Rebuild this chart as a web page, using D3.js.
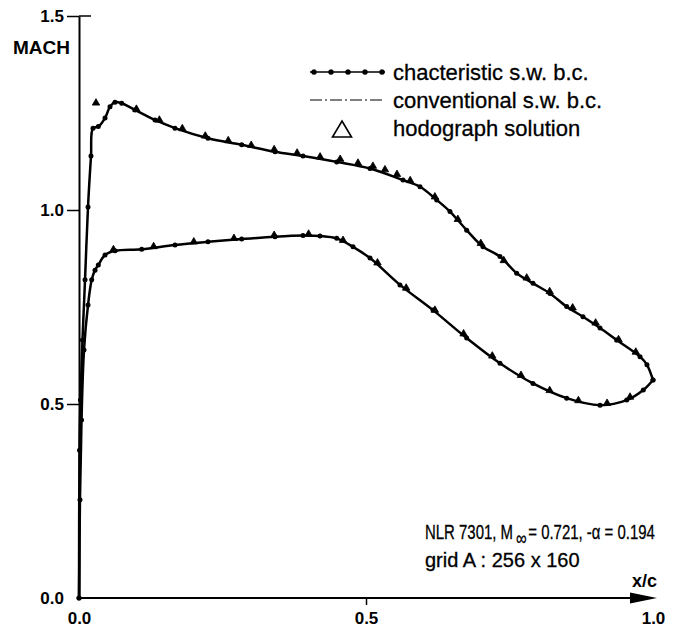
<!DOCTYPE html>
<html>
<head>
<meta charset="utf-8">
<script src="https://cdn.jsdelivr.net/npm/d3@7"></script>
<style>
  body { margin: 0; background: #fff; }
  svg { font-family: "Liberation Sans", Arial, Helvetica, sans-serif; }
</style>
</head>
<body>
<script>
var w = 675;
var h = 634;

// characteristic s.w. b.c. - upper surface [x/c, MACH]
var charUpper = [
  [0, 0], [0.0009, 0.381], [0.0026, 0.510], [0.0061, 0.665], [0.0105, 0.820],
  [0.0157, 1.008], [0.0209, 1.139], [0.0244, 1.211], [0.0336, 1.215], [0.0453, 1.237],
  [0.0540, 1.266], [0.0627, 1.278], [0.0744, 1.275], [0.0976, 1.258], [0.1324, 1.232],
  [0.1672, 1.211], [0.2247, 1.185], [0.2834, 1.168], [0.3415, 1.150], [0.3902, 1.139],
  [0.4490, 1.124], [0.5070, 1.107], [0.5645, 1.077], [0.5941, 1.060], [0.6232, 1.026],
  [0.6463, 0.996], [0.6754, 0.948], [0.7038, 0.905], [0.7334, 0.880], [0.7625, 0.837],
  [0.7909, 0.811], [0.8206, 0.785], [0.8496, 0.751], [0.8780, 0.725], [0.9077, 0.696],
  [0.9368, 0.665], [0.9774, 0.622], [0.9895, 0.601], [1.0, 0.562]
];

// characteristic s.w. b.c. - lower surface [x/c, MACH]
var charLower = [
  [0, 0], [0.0017, 0.253], [0.0044, 0.459], [0.0087, 0.639], [0.0157, 0.755],
  [0.0221, 0.820], [0.0279, 0.845], [0.0336, 0.858], [0.0453, 0.884], [0.0627, 0.895],
  [0.1092, 0.899], [0.1672, 0.910], [0.2247, 0.918], [0.2834, 0.925], [0.3415, 0.931],
  [0.3902, 0.934], [0.4199, 0.933], [0.4490, 0.927], [0.4774, 0.905], [0.5070, 0.876],
  [0.5592, 0.807], [0.6167, 0.742], [0.6754, 0.670], [0.7334, 0.605], [0.7909, 0.553],
  [0.8496, 0.515], [0.9077, 0.497], [0.9542, 0.510], [0.9831, 0.536], [1.0, 0.562]
];

// conventional s.w. b.c. coincides with the characteristic curves in the plot
var convUpper = charUpper;
var convLower = charLower;

// hodograph solution [x/c, MACH]
var hodoUpper = [
  [0.0296, 1.272], [0.10, 1.256], [0.14, 1.228], [0.18, 1.206], [0.22, 1.187],
  [0.26, 1.175], [0.30, 1.163], [0.34, 1.152], [0.38, 1.143], [0.42, 1.133],
  [0.455, 1.127], [0.486, 1.117], [0.512, 1.109], [0.533, 1.100], [0.554, 1.088],
  [0.577, 1.072], [0.62, 1.030], [0.66, 0.972], [0.70, 0.910], [0.74, 0.866],
  [0.78, 0.821], [0.82, 0.786], [0.86, 0.744], [0.90, 0.705], [0.94, 0.662], [0.97, 0.630]
];
var hodoLower = [
  [0.06, 0.894], [0.13, 0.902], [0.20, 0.914], [0.27, 0.923], [0.34, 0.931],
  [0.40, 0.934], [0.46, 0.918], [0.52, 0.860], [0.57, 0.795], [0.62, 0.738],
  [0.67, 0.677], [0.72, 0.620], [0.77, 0.570], [0.82, 0.531], [0.87, 0.505],
  [0.92, 0.498], [0.96, 0.514]
];

var xTicks = [0, 0.5, 1.0];
var yTicks = [0, 0.5, 1.0, 1.5];
var legendLabels = ["chacteristic s.w. b.c.", "conventional s.w. b.c.", "hodograph solution"];

var x = d3.scaleLinear().domain([0, 1]).range([79, 653]);
var y = d3.scaleLinear().domain([0, 1.5]).range([598, 16]);

var svg = d3.select("body").append("svg")
  .attr("width", w)
  .attr("height", h);

var line = d3.line()
  .x(function(d) { return x(d[0]); })
  .y(function(d) { return y(d[1]); })
  .curve(d3.curveCatmullRom.alpha(0.5));

// y axis
var yAxis = svg.append("g")
  .attr("transform", "translate(" + x(0) + ",0)")
  .call(d3.axisLeft(y).tickValues(yTicks).tickFormat(d3.format(".1f")).tickSizeInner(12).tickSizeOuter(0).tickPadding(3));
yAxis.select(".domain").attr("stroke-width", 2);
yAxis.selectAll(".tick line").attr("stroke-width", 1.5)
  .filter(function(d) { return d === 0; }).remove();
yAxis.selectAll(".tick text")
  .attr("font-size", 17)
  .attr("font-weight", "bold")
  .attr("font-family", "Liberation Sans, Arial, sans-serif")
  .attr("fill", "#000");

svg.append("line")
  .attr("x1", x(0)).attr("x2", x(0) + 12)
  .attr("y1", y(1.5)).attr("y2", y(1.5))
  .attr("stroke", "#000").attr("stroke-width", 1.5);

svg.append("text")
  .attr("x", 13)
  .attr("y", 54)
  .attr("font-size", 19)
  .attr("font-weight", "bold")
  .text("MACH");

// x axis
var xAxis = svg.append("g")
  .attr("transform", "translate(0," + y(0) + ")")
  .call(d3.axisBottom(x).tickValues(xTicks).tickFormat(d3.format(".1f")).tickSizeInner(7).tickSizeOuter(0).tickPadding(7));
xAxis.select(".domain").remove();
xAxis.selectAll(".tick line").attr("stroke-width", 1.5)
  .filter(function(d) { return d !== 0.5; }).remove();
xAxis.selectAll(".tick text")
  .attr("font-size", 17)
  .attr("font-weight", "bold")
  .attr("font-family", "Liberation Sans, Arial, sans-serif")
  .attr("fill", "#000");

svg.append("line")
  .attr("x1", x(0)).attr("x2", x(1) - 2)
  .attr("y1", y(0)).attr("y2", y(0))
  .attr("stroke", "#000").attr("stroke-width", 2);

svg.append("path")
  .attr("d", "M" + (x(1) - 23) + "," + (y(0) - 5.5) + "L" + (x(1) + 4) + "," + y(0) + "L" + (x(1) - 23) + "," + (y(0) + 5.5) + "Z")
  .attr("fill", "#000");

svg.append("text")
  .attr("x", x(1) + 4)
  .attr("y", 587)
  .attr("text-anchor", "end")
  .attr("font-size", 18)
  .attr("font-weight", "bold")
  .text("x/c");

// curves
var curves = svg.append("g");

[charUpper, charLower].forEach(function(s) {
  curves.append("path")
    .datum(s)
    .attr("d", line)
    .attr("fill", "none")
    .attr("stroke", "#000")
    .attr("stroke-width", 2.5);
  curves.selectAll(null)
    .data(s)
    .enter().append("circle")
      .attr("cx", function(d) { return x(d[0]); })
      .attr("cy", function(d) { return y(d[1]); })
      .attr("r", 2.5)
      .attr("fill", "#000");
});

[convUpper, convLower].forEach(function(s) {
  curves.append("path")
    .datum(s)
    .attr("d", line)
    .attr("fill", "none")
    .attr("stroke", "#000")
    .attr("stroke-width", 1)
    .attr("stroke-dasharray", "7,2,1.5,2");
});

var tri = d3.symbol().type(d3.symbolTriangle).size(24);
curves.selectAll(".hodo")
  .data(hodoUpper.concat(hodoLower))
  .enter().append("path")
    .attr("class", "hodo")
    .attr("d", tri)
    .attr("transform", function(d) { return "translate(" + x(d[0]) + "," + (y(d[1]) - 1.5) + ")"; })
    .attr("fill", "#000")
    .attr("stroke", "#000")
    .attr("stroke-width", 0.8);

// legend
var legend = svg.append("g")
  .attr("font-size", 22)
  .attr("stroke", "#000")
  .attr("stroke-width", 0.3);

legend.append("line")
  .attr("x1", 310).attr("x2", 385).attr("y1", 72).attr("y2", 72)
  .attr("stroke", "#000").attr("stroke-width", 1.5);
legend.selectAll(".ldot")
  .data([314, 331, 348, 365, 382])
  .enter().append("circle")
    .attr("class", "ldot")
    .attr("cx", function(d) { return d; })
    .attr("cy", 72)
    .attr("r", 2.6)
    .attr("fill", "#000");

legend.append("line")
  .attr("x1", 310).attr("x2", 385).attr("y1", 100).attr("y2", 100)
  .attr("stroke", "#000").attr("stroke-width", 1.2)
  .attr("stroke-dasharray", "12,3,2,3");

legend.append("path")
  .attr("d", "M342,121L351.5,137L332.5,137Z")
  .attr("fill", "none")
  .attr("stroke", "#000")
  .attr("stroke-width", 1.6);

legend.selectAll(".ltxt")
  .data(legendLabels)
  .enter().append("text")
    .attr("class", "ltxt")
    .attr("x", 393)
    .attr("y", function(d, i) { return 72 + i * 28; })
    .attr("dy", "0.35em")
    .text(function(d) { return d; });

// annotation - first line built from pieces, then squeezed to the width in the figure
var note = svg.append("g")
  .attr("font-size", 20)
  .attr("stroke", "#000")
  .attr("stroke-width", 0.3);

var p1 = note.append("text").attr("x", 0).attr("y", 0).text("NLR 7301, M");
var w1 = p1.node().getComputedTextLength();
var p2 = note.append("text").attr("x", w1 + 4).attr("y", 6).text("\u221e");
var w2 = p2.node().getComputedTextLength();
var p3 = note.append("text").attr("x", w1 + w2 + 6).attr("y", 0).text("= 0.721, -\u03b1 = 0.194");
var total = w1 + w2 + 6 + p3.node().getComputedTextLength();
note.attr("transform", "translate(425,539) scale(" + (230 / total) + ",1)");

svg.append("text")
  .attr("x", 425)
  .attr("y", 567)
  .attr("font-size", 20)
  .attr("stroke", "#000")
  .attr("stroke-width", 0.3)
  .text("grid A : 256 x 160");
</script>
</body>
</html>
